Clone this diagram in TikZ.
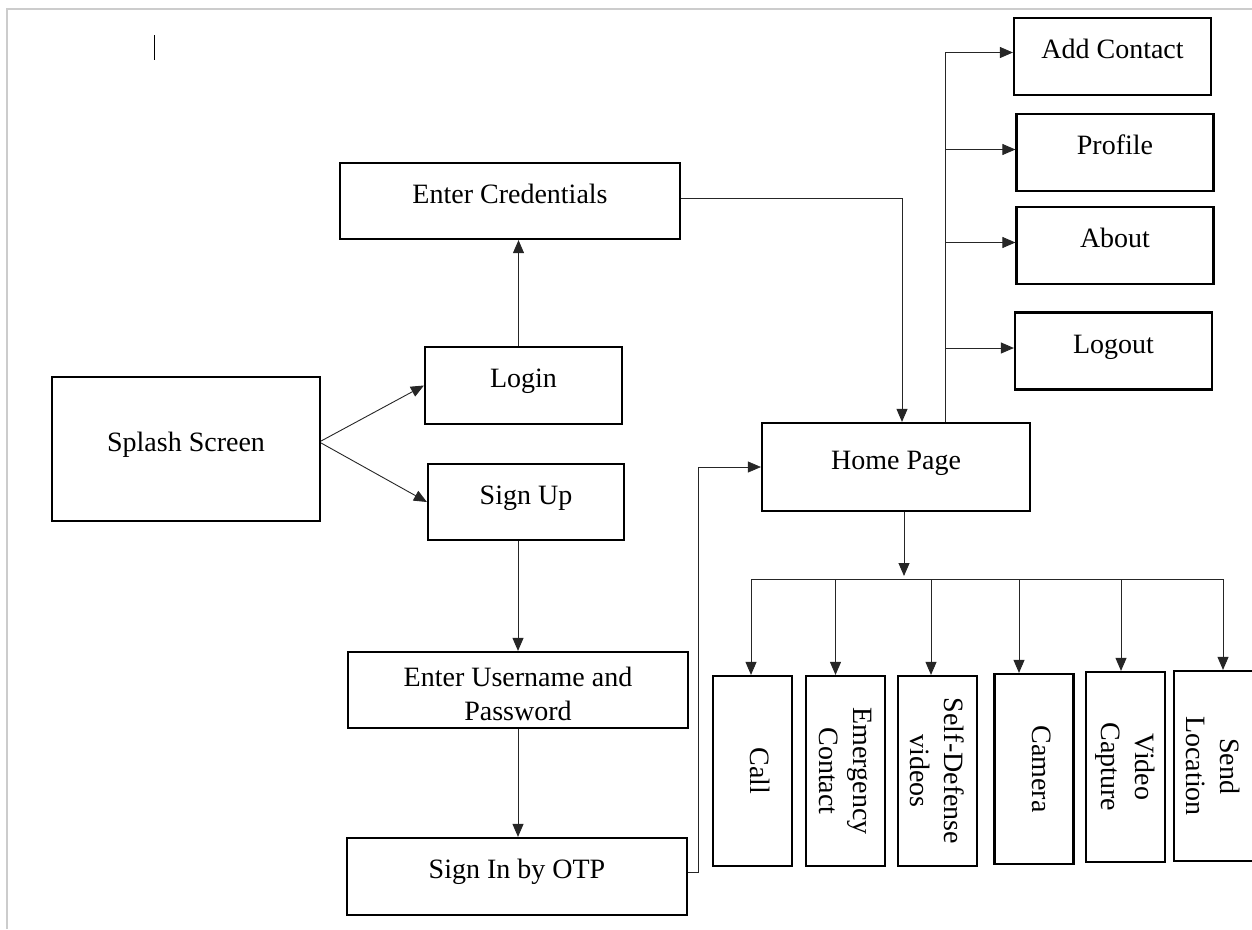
\documentclass[tikz,border=0pt]{standalone}
\usepackage{fontspec}
\setmainfont{Liberation Serif}
\usetikzlibrary{positioning,arrows.meta,calc}

\begin{document}
\begin{tikzpicture}[x=1pt, y=-1pt, font=\fontsize{28}{34}\selectfont,
        screen/.style={draw, line width=2.2pt, inner sep=0pt, align=center},
        size/.style 2 args={minimum width=#1pt, minimum height=#2pt},
        tall/.style={rotate=-90, minimum width=190pt, minimum height=79pt},
        raised/.style={text height=20pt, text depth=16pt},
        plain/.style={},
        flow/.style={-{Triangle[length=13pt,width=11pt]}, line width=0.9pt, black!85}]
        \useasboundingbox (0,0) rectangle (1252,929);
        % page edge and cursor
        \draw[black!20, line width=1.2pt] (7,929) -- (7,9) -- (1252,9);
        \draw[line width=0.9pt] (154,35) -- (154,60);
        % left column
        \node[screen, raised, size={268}{144}] (splash) at (186,449) {Splash Screen};
        \node[screen, raised, size={340}{76}] (cred) at (510,201) {Enter Credentials};
        \node[screen, raised, size={197}{77}] (login) at (523.5,385.5) {Login};
        \node[screen, raised, size={196}{76}] (signup) at (526,502) {Sign Up};
        \node[screen, size={340}{76}] (userpw) at (518,690)
            {\raisebox{4pt}[0pt][0pt]{\begin{tabular}[t]{@{}c@{}}Enter Username and\\Password\end{tabular}}};
        \node[screen, raised, size={340}{77}] (otp) at (517,876.5) {Sign In by OTP};
        % home and menu
        \node[screen, raised, size={268}{88}] (home) at (896,467) {Home Page};
        \foreach \x/\y/\name/\txt in {1112.5/56.5/add/Add Contact, 1115/152.5/profile/Profile, 1115/245.5/about/About, 1113.5/351/logout/Logout}{
            \node[screen, raised, size={197}{77}] (\name) at (\x,\y) {\txt};
            \coordinate (\name-in) at ([yshift=3pt]\name.west);}
        % feature boxes
        \coordinate (hub) at (904,579);
        \foreach \x/\y/\dx/\name/\st/\txt in {752.5/771/-1.5/call/raised/Call, 845.5/771/-10/emergency/plain/{Emergency\\Contact},
                937.5/771/-6.5/videos/plain/{Self-Defense\\videos}, 1034/769/-15/camera/raised/Camera,
                1125.5/767/-4.5/capture/plain/{Video\\Capture}, 1213.5/766/9.5/location/plain/{Send\\Location}}{
            \node[screen, tall, \st] (\name) at (\x,\y) {\txt};
            \coordinate (\name-in) at ([xshift=\dx pt]\name.west);
            \draw[flow] (\name-in |- hub) -- (\name-in);}
        % connectors
        \draw[flow] ([yshift=8pt]splash.east) -- (login.west);
        \draw[flow] ([yshift=6pt]splash.east) -- (signup.west);
        \draw[flow] ([xshift=-5pt]login.north) -- ([xshift=-5pt]login.north |- cred.south);
        \draw[flow] (signup.south -| userpw.north) -- (userpw.north);
        \draw[flow] (userpw.south) -- (userpw.south |- otp.north);
        \draw[flow] ([yshift=3pt]cred.east) -| ([xshift=6pt]home.north);
        \draw[flow, line width=0.6pt] ([yshift=4pt]otp.east) -- ++(10,0) |- (home.west);
        \coordinate (trunk) at ([xshift=49pt]home.north);
        \draw[flow] (trunk) |- ([yshift=4pt]add.west);
        \foreach \name in {profile, about, logout}{
            \draw[flow] (trunk |- \name-in) -- (\name-in);}
        \draw[flow] (home.south -| hub) -- ([yshift=3pt]hub);
        \draw[line width=0.9pt, black!85] (call-in |- hub) -- (location-in |- hub);
\end{tikzpicture}
\end{document}
